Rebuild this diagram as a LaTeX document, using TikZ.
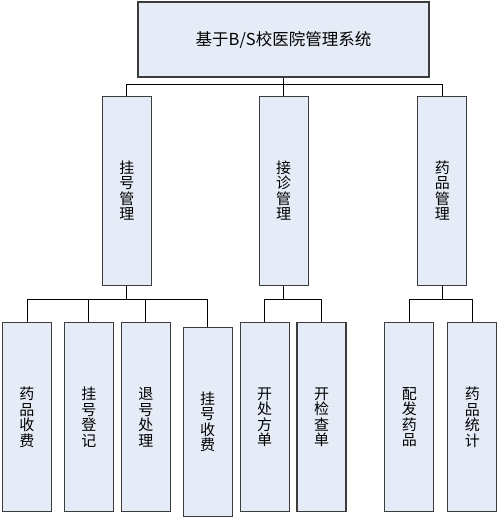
\documentclass[tikz,border=0pt]{standalone}
\usepackage{fontspec}
\newfontfamily\cjk{Noto Sans CJK SC}
\definecolor{boxfill}{RGB}{230,236,247}
\definecolor{boxline}{RGB}{60,60,60}
\begin{document}
\begin{tikzpicture}[x=1pt,y=-1pt,
  box/.style={draw=boxline, line width=1.1pt, fill=boxfill, inner sep=0pt, align=center,
              font=\cjk\fontsize{15}{15.5}\selectfont},
  tall/.style={box, minimum width=49pt, minimum height=189pt},
  conn/.style={draw=black, line width=0.9pt}]
\useasboundingbox (0,0) rectangle (500,519);
\fill[white] (0,0) rectangle (500,519);
% top
\node[box, minimum width=291pt, minimum height=75pt, font=\cjk\fontsize{16.5}{18}\selectfont] (top) at (283.5,39.5) {基于B/S校医院管理系统};
% middle
\node[tall] (m1) at (126.8,190.7) {挂\\号\\管\\理};
\node[tall] (m2) at (283.7,190.7) {接\\诊\\管\\理};
\node[tall] (m3) at (442.3,190.7) {药\\品\\管\\理};
% bottom
\node[tall] (b1) at (27,417.2) {药\\品\\收\\费};
\node[tall] (b2) at (88.8,417.2) {挂\\号\\登\\记};
\node[tall] (b3) at (145.8,417.2) {退\\号\\处\\理};
\node[tall] (b4) at (207.7,421.7) {挂\\号\\收\\费};
\node[tall] (b5) at (264.7,417.2) {开\\处\\方\\单};
\node[tall] (b6) at (321.5,417.2) {开\\检\\查\\单};
\node[tall] (b7) at (409.3,417.2) {配\\发\\药\\品};
\node[tall] (b8) at (472.3,417.2) {药\\品\\统\\计};
% buses
\coordinate (busA) at (0,84);
\coordinate (busB) at (0,299.3);
\draw[conn] (top.south) -- (top.south |- busA);
\draw[conn] (m1.north) -- (m1.north |- busA) -- (m3.north |- busA) -- (m3.north);
\draw[conn] (m2.north) -- (m2.north |- busA);
\draw[conn] (m1.south) -- (m1.south |- busB);
\draw[conn] (m2.south) -- (m2.south |- busB);
\draw[conn] (m3.south) -- (m3.south |- busB);
\draw[conn] (b1.north) -- (b1.north |- busB) -- (b4.north |- busB) -- (b4.north);
\draw[conn] (b2.north) -- (b2.north |- busB);
\draw[conn] (b3.north) -- (b3.north |- busB);
\draw[conn] (b5.north) -- (b5.north |- busB) -- (b6.north |- busB) -- (b6.north);
\draw[conn] (b7.north) -- (b7.north |- busB) -- (b8.north |- busB) -- (b8.north);
\end{tikzpicture}
\end{document}
